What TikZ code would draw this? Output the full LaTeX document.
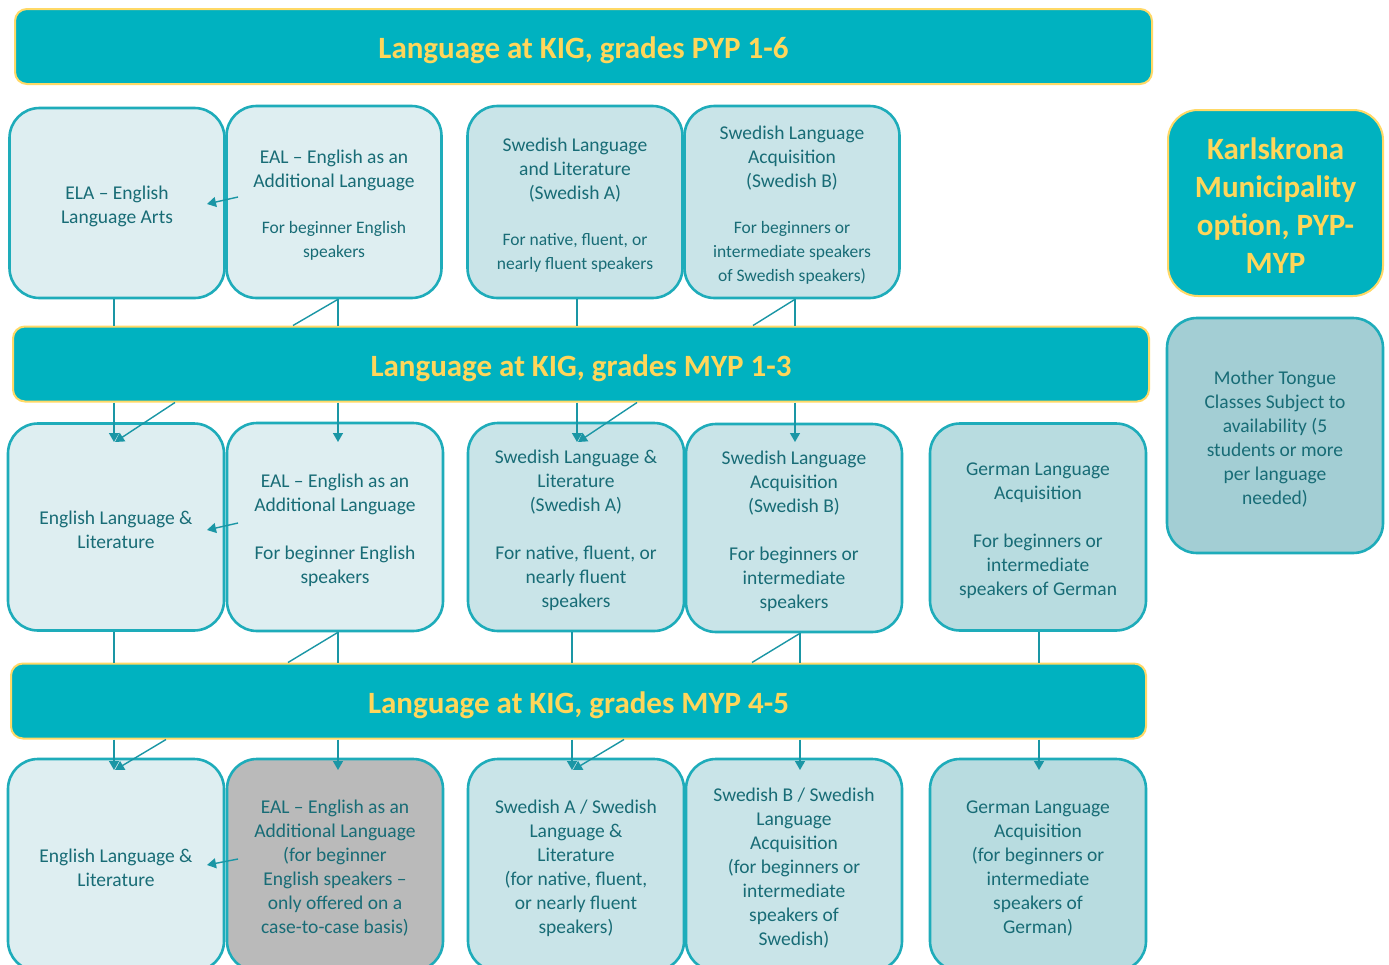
\documentclass[tikz,border=0pt]{standalone}
\usepackage{fontspec}
\setmainfont{Carlito}
\usetikzlibrary{arrows.meta}
\definecolor{teal1}{RGB}{0,178,192}
\definecolor{ybord}{RGB}{255,217,102}
\definecolor{ytext}{RGB}{255,214,90}
\definecolor{bbord}{RGB}{30,172,186}
\definecolor{tx}{RGB}{24,108,118}
\definecolor{fEng}{RGB}{222,238,241}
\definecolor{fSwe}{RGB}{201,228,232}
\definecolor{fGer}{RGB}{184,220,224}
\definecolor{fMT}{RGB}{163,206,212}
\definecolor{fGrey}{RGB}{186,186,186}
\definecolor{lc}{RGB}{26,150,165}
\newcommand{\subf}{\fontsize{17.5}{21.5}\selectfont}
\newcommand{\fl}{\rule{0pt}{20pt}}
\begin{document}
\begin{tikzpicture}[x=1pt,y=-1pt,
 banner/.style={draw=ybord, line width=2pt, fill=teal1, rounded corners=12pt, text=ytext,
   font=\fontsize{31}{38}\selectfont\bfseries, inner sep=0pt, minimum height=75pt,
   execute at begin node={\rule{0pt}{30pt}}},
 box/.style={draw=bbord, line width=2.6pt, rounded corners=30pt, text=tx, align=center,
   inner sep=0pt, font=\fontsize{19.5}{24}\selectfont, minimum width=215pt},
 conn/.style={draw=lc, line width=1.4pt},
 arr/.style={conn, -{Triangle[length=9pt,width=10pt]}},
]
\useasboundingbox (0,0) rectangle (1389,964);
\clip (0,0) rectangle (1389,964);
\fill[white] (0,0) rectangle (1389,964);

% banners
\node[banner, minimum width=1137pt] (b1) at (583.5,46.5) {Language at KIG, grades PYP 1-6};
\node[banner, minimum width=1136pt] (b2) at (581,364) {Language at KIG, grades MYP 1-3};
\node[banner, minimum width=1135pt] (b3) at (578.5,701) {Language at KIG, grades MYP 4-5};

% right column
\node[box, fill=teal1, draw=ybord, line width=2pt, text=ytext, minimum width=215pt, minimum height=186pt,
  font=\fontsize{31}{38}\selectfont\bfseries] (kar) at (1275.5,203) {\rule{0pt}{27pt}Karlskrona\\Municipality\\option, PYP-\\MYP};
\node[box, fill=fMT, minimum width=216pt, minimum height=235pt] (mt) at (1275,435.5)
  {\fl Mother Tongue\\Classes Subject to\\availability (5\\students or more\\per language\\needed)};

% row 1
\node[box, fill=fEng, minimum height=190pt] (ela1) at (117,203) {\fl ELA -- English\\Language Arts};
\node[box, fill=fEng, minimum height=192pt] (eal1) at (334,202)
  {\fl EAL -- English as an\\Additional Language\\[22pt]\subf For beginner English\\\subf speakers};
\node[box, fill=fSwe, minimum height=192pt] (swa1) at (575,202)
  {\fl Swedish Language\\and Literature\\(Swedish A)\\[22pt]\subf For native, fluent, or\\\subf nearly fluent speakers};
\node[box, fill=fSwe, minimum height=192pt] (swb1) at (792,202)
  {\fl Swedish Language\\Acquisition\\(Swedish B)\\[22pt]\subf For beginners or\\\subf intermediate speakers\\\subf of Swedish speakers)};

% row 2
\node[box, fill=fEng, minimum width=216pt, minimum height=207pt] (ell2) at (116,527) {\fl English Language \&\\Literature};
\node[box, fill=fEng, minimum width=216pt, minimum height=208pt] (eal2) at (335,527)
  {\fl EAL -- English as an\\Additional Language\\[24pt]For beginner English\\speakers};
\node[box, fill=fSwe, minimum width=216pt, minimum height=208pt] (swa2) at (576,527)
  {\fl Swedish Language \&\\Literature\\(Swedish A)\\[24pt]For native, fluent, or\\nearly fluent\\speakers};
\node[box, fill=fSwe, minimum width=216pt, minimum height=208pt] (swb2) at (794,528)
  {\fl Swedish Language\\Acquisition\\(Swedish B)\\[24pt]For beginners or\\intermediate\\speakers};
\node[box, fill=fGer, minimum width=216pt, minimum height=207pt] (ger2) at (1038,527)
  {\fl German Language\\Acquisition\\[24pt]For beginners or\\intermediate\\speakers of German};

% row 3
\node[box, fill=fEng, minimum width=216pt, minimum height=212pt] (ell3) at (116,865) {\fl English Language \&\\Literature};
\node[box, fill=fGrey, minimum width=216pt, minimum height=212pt] (eal3) at (335,865)
  {\fl EAL -- English as an\\Additional Language\\(for beginner\\English speakers --\\only offered on a\\case-to-case basis)};
\node[box, fill=fSwe, minimum width=216pt, minimum height=212pt] (swa3) at (576,865)
  {\fl Swedish A / Swedish\\Language \&\\Literature\\(for native, fluent,\\or nearly fluent\\speakers)};
\node[box, fill=fSwe, minimum width=216pt, minimum height=212pt] (swb3) at (794,865)
  {\fl Swedish B / Swedish\\Language\\Acquisition\\(for beginners or\\intermediate\\speakers of\\Swedish)};
\node[box, fill=fGer, minimum width=216pt, minimum height=212pt] (ger3) at (1038,865)
  {\fl German Language\\Acquisition\\(for beginners or\\intermediate\\speakers of\\German)};

% row 1 -> banner 2
\draw[conn] (ela1.south -| 114,0) -- (b2.north -| 114,0);
\draw[conn] (eal1.south -| 338,0) -- (b2.north -| 338,0);
\draw[conn] (eal1.south -| 338,0) -- (b2.north -| 293,0);
\draw[conn] (swa1.south -| 577,0) -- (b2.north -| 577,0);
\draw[conn] (swb1.south -| 795,0) -- (b2.north -| 795,0);
\draw[conn] (swb1.south -| 795,0) -- (b2.north -| 753,0);
\draw[arr] (238,197) -- (207,204);

% banner 2 -> row 2
\draw[arr] (b2.south -| 114,0) -- (114,442);
\draw[arr] (b2.south -| 175,0) -- (115,442);
\draw[arr] (b2.south -| 338,0) -- (338,442);
\draw[arr] (b2.south -| 577,0) -- (577,442);
\draw[arr] (b2.south -| 637,0) -- (578,442);
\draw[arr] (b2.south -| 795,0) -- (795,442);
\draw[arr] (238,523) -- (207,530);

% row 2 -> banner 3
\draw[conn] (ell2.south -| 114,0) -- (b3.north -| 114,0);
\draw[conn] (eal2.south -| 338,0) -- (b3.north -| 338,0);
\draw[conn] (eal2.south -| 338,0) -- (b3.north -| 288,0);
\draw[conn] (swa2.south -| 572,0) -- (b3.north -| 572,0);
\draw[conn] (swb2.south -| 800,0) -- (b3.north -| 800,0);
\draw[conn] (swb2.south -| 800,0) -- (b3.north -| 752,0);
\draw[conn] (ger2.south -| 1039,0) -- (b3.north -| 1039,0);

% banner 3 -> row 3
\draw[arr] (b3.south -| 114,0) -- (114,770);
\draw[arr] (b3.south -| 166,0) -- (115,770);
\draw[arr] (b3.south -| 338,0) -- (338,770);
\draw[arr] (b3.south -| 572,0) -- (572,770);
\draw[arr] (b3.south -| 624,0) -- (573,770);
\draw[arr] (b3.south -| 800,0) -- (800,770);
\draw[arr] (b3.south -| 1039,0) -- (1039,770);
\draw[arr] (238,859) -- (207,865);
\end{tikzpicture}
\end{document}
